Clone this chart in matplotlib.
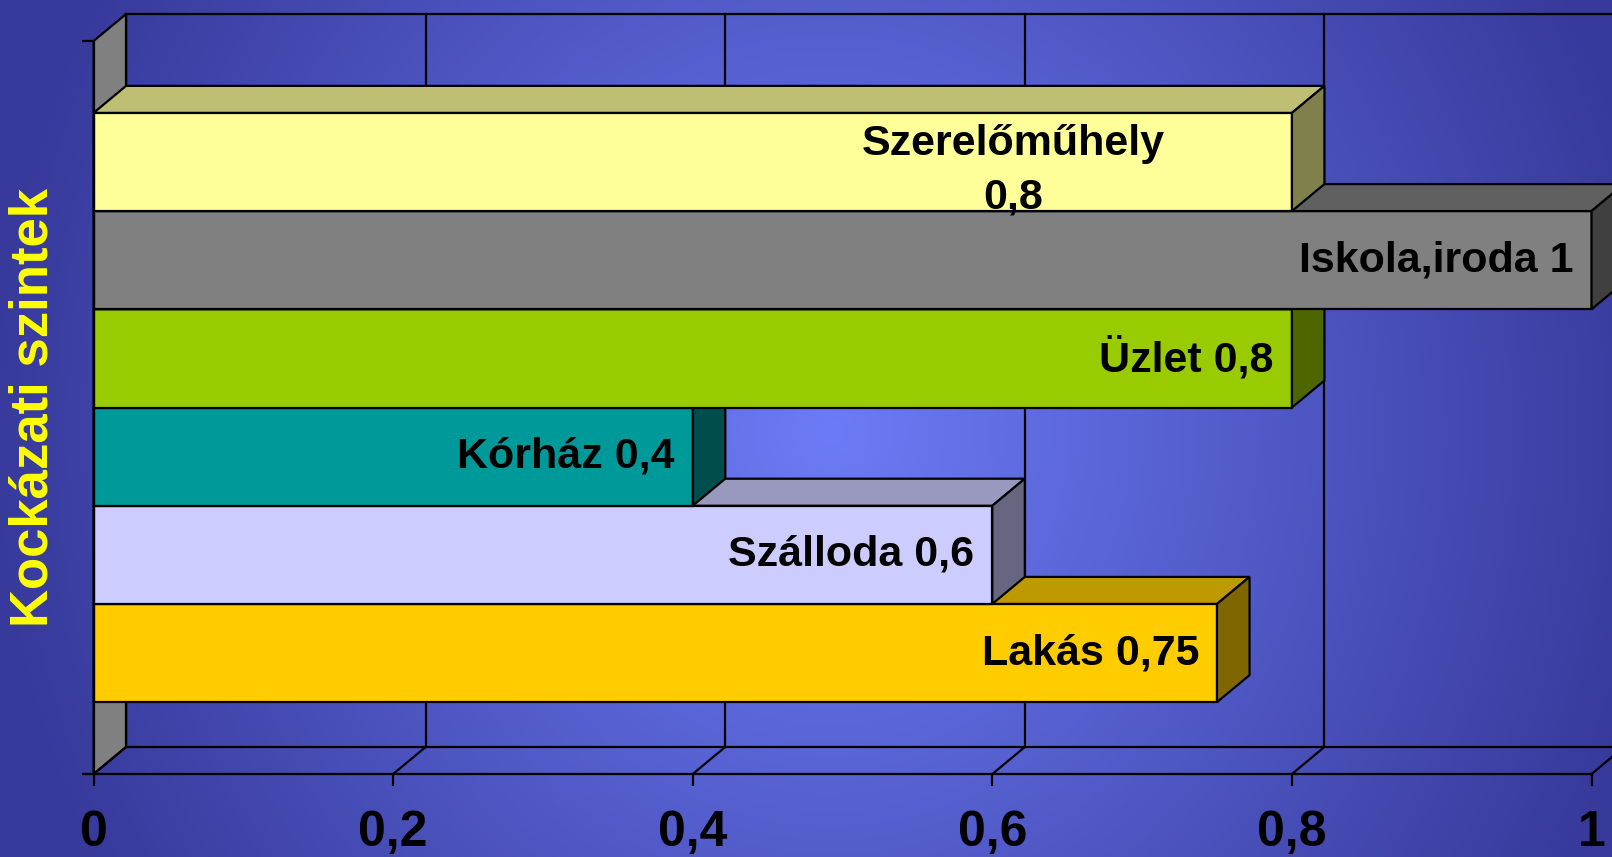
import numpy as np
import matplotlib.pyplot as plt
from matplotlib.patches import Polygon

plt.rcParams['font.family'] = ['Liberation Sans', 'DejaVu Sans']

# data (bottom to top)
names = ["Lakás", "Szálloda", "Kórház", "Üzlet", "Iskola,iroda", "Szerelőműhely"]
values = [0.75, 0.6, 0.4, 0.8, 1.0, 0.8]
labels = ["Lakás 0,75", "Szálloda 0,6", "Kórház 0,4", "Üzlet 0,8", "Iskola,iroda 1", "Szerelőműhely\n0,8"]
colors = ["#FFCC00", "#CCCCFF", "#009999", "#99CC00", "#808080", "#FFFF99"]
xticks = [0, 0.2, 0.4, 0.6, 0.8, 1.0]
xticklabels = ["0", "0,2", "0,4", "0,6", "0,8", "1"]
ylabel = "Kockázati szintek"

W, H = 1612, 857
fig = plt.figure(figsize=(W / 100, H / 100), dpi=100)

# background gradient
bg = fig.add_axes([0, 0, 1, 1], zorder=0)
yy, xx = np.mgrid[0:H, 0:W]
t = np.sqrt(((xx - 830) / 830.0) ** 2 + ((yy - 430) / 900.0) ** 2)
t = np.clip(t, 0, 1)[..., None]
c_center = np.array([108, 124, 246]) / 255
c_edge = np.array([56, 58, 156]) / 255
img = c_center + (c_edge - c_center) * t
bg.imshow(img, aspect='auto', extent=[0, 1, 0, 1])
bg.axis('off')

# main axes = front plane
x0px, x1px = 93.6, 1591.5
ybot, ytop = 774, 41
ax = fig.add_axes([x0px / W, (H - ybot) / H, (x1px - x0px) / W, (ybot - ytop) / H], zorder=1)
ax.set_facecolor('none')

n = len(values)
gap = 0.732
top = n + 2 * gap
dx = 32.5 / (x1px - x0px)
dy = 0.275
lw = 1.6

ax.set_xlim(0, 1)
ax.set_ylim(0, top)

def darker(c, f):
    r, g, b = plt.matplotlib.colors.to_rgb(c)
    return (r * f, g * f, b * f)

# left wall
ax.add_patch(Polygon([(0, 0), (dx, dy), (dx, top + dy), (0, top)], closed=True,
                     facecolor='#808080', edgecolor='black', lw=lw, clip_on=False, zorder=1))
# back wall lines and floor lines
ax.plot([dx, 1 + dx], [top + dy, top + dy], color='black', lw=lw, clip_on=False, zorder=1)
ax.plot([dx, 1 + dx], [dy, dy], color='black', lw=lw, clip_on=False, zorder=1)
for v in xticks:
    ax.plot([v + dx, v + dx], [dy, top + dy], color='black', lw=lw, clip_on=False, zorder=1)
    ax.plot([v, v + dx], [0, dy], color='black', lw=lw, clip_on=False, zorder=1)

# bars, drawn bottom to top
for i, (v, c) in enumerate(zip(values, colors)):
    b = gap + i
    z = 2 + i
    ax.barh(b, v, height=1, left=0, align='edge', color=c, edgecolor='black', lw=lw,
            zorder=z, clip_on=False)
    ax.add_patch(Polygon([(0, b + 1), (v, b + 1), (v + dx, b + 1 + dy), (dx, b + 1 + dy)],
                         closed=True, facecolor=darker(c, 0.75), edgecolor='black', lw=lw,
                         zorder=z, clip_on=False))
    ax.add_patch(Polygon([(v, b), (v + dx, b + dy), (v + dx, b + 1 + dy), (v, b + 1)],
                         closed=True, facecolor=darker(c, 0.5), edgecolor='black', lw=lw,
                         zorder=z, clip_on=False))

# labels inside bar ends
pad = 0.012
for i, (v, lab) in enumerate(zip(values, labels)):
    yc = gap + i + 0.5
    if "\n" in lab:
        ax.text(v - 0.186, yc - 0.09, lab, ha='center', va='center', fontsize=31,
                fontweight='bold', color='black', linespacing=1.45, zorder=50)
    else:
        ax.text(v - pad, yc, lab, ha='right', va='center', fontsize=31,
                fontweight='bold', color='black', zorder=50)

# axes
for s in ['top', 'right']:
    ax.spines[s].set_visible(False)
for s in ['left', 'bottom']:
    ax.spines[s].set_linewidth(lw)
    ax.spines[s].set_zorder(20)
ax.set_xticks(xticks)
ax.set_xticklabels(xticklabels, fontsize=36, fontweight='bold')
ax.set_yticks([0, top])
ax.set_yticklabels([])
ax.tick_params(axis='x', direction='out', length=8.6, width=lw, pad=17)
ax.tick_params(axis='y', direction='out', length=8.6, width=lw)
ax.set_ylabel(ylabel, fontsize=38, fontweight='bold', color='#FFFF00')
ax.yaxis.label.set_va('center')
ax.yaxis.set_label_coords(-0.0398, 0.5)

fig.savefig('out.png', dpi=100)
